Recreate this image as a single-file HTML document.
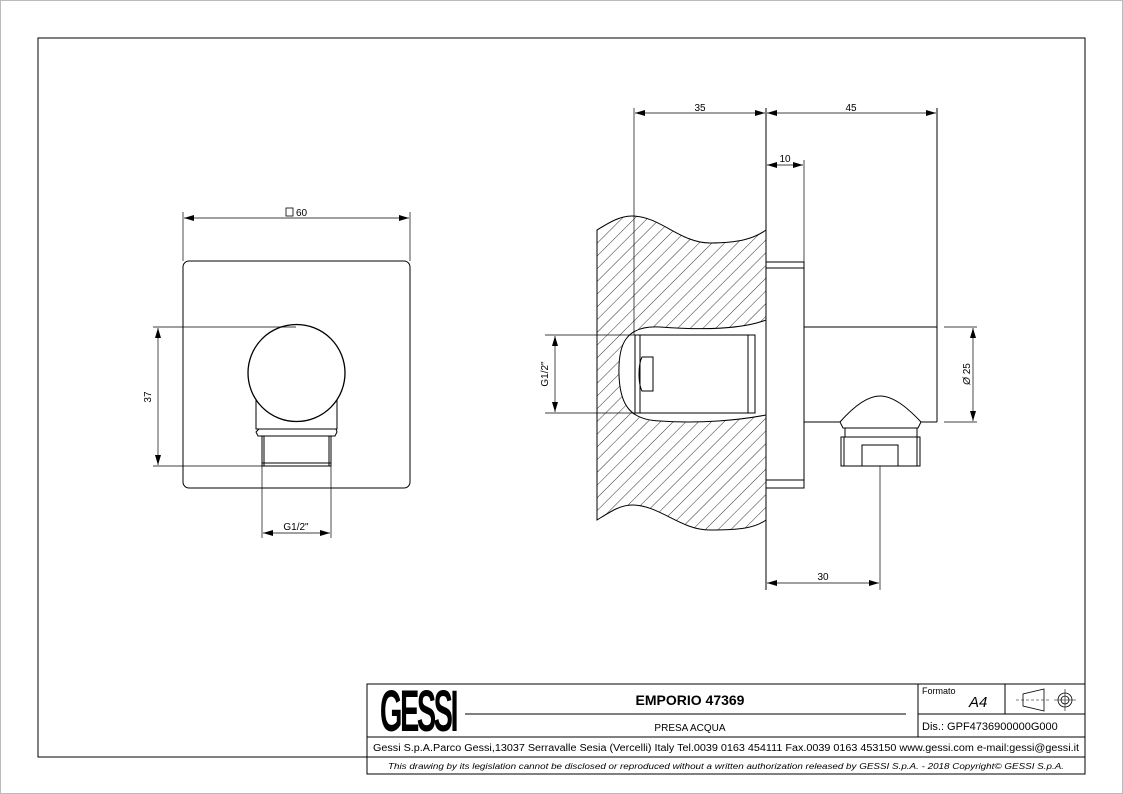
<!DOCTYPE html>
<html><head><meta charset="utf-8"><style>
html,body{margin:0;padding:0;background:#fff;}
svg{display:block;}
text{font-family:"Liberation Sans",sans-serif;fill:#000;}
</style></head><body>
<svg width="1123" height="794" viewBox="0 0 1123 794" xmlns="http://www.w3.org/2000/svg">
<defs>
<pattern id="h" patternUnits="userSpaceOnUse" width="9" height="9" patternTransform="rotate(45)">
<line x1="0" y1="0" x2="0" y2="9" stroke="#000" stroke-width="0.8"/>
</pattern>
<marker id="a" markerWidth="10" markerHeight="6" refX="10" refY="3" orient="auto-start-reverse" markerUnits="userSpaceOnUse">
<path d="M0,0 L10,3 L0,6 z" fill="#000"/>
</marker>
</defs>
<g fill="none" stroke="#000" stroke-width="1">
<rect x="0.5" y="0.5" width="1122" height="793" stroke="#bbb"/>
<polyline points="367,757 38,757 38,38 1085,38 1085,774"/>

<!-- LEFT VIEW -->
<line x1="183" y1="212" x2="183" y2="261" stroke-width="0.7"/>
<line x1="410" y1="212" x2="410" y2="261" stroke-width="0.7"/>
<line x1="184" y1="218" x2="409" y2="218" stroke-width="0.7" marker-start="url(#a)" marker-end="url(#a)"/>
<rect x="183" y="261" width="227" height="227" rx="6"/>
<path d="M256,400 L256,429 L337,429 L337,400" />
<circle cx="296.5" cy="373" r="48.5" fill="#fff" stroke-width="1.3"/>
<path d="M259,429 L336,429 L337,432 L335,436 L258,436 L256,432 Z"/>
<rect x="262" y="436" width="69" height="30"/>
<line x1="262" y1="463" x2="331" y2="463"/>
<line x1="264" y1="436" x2="264" y2="466"/>
<line x1="329" y1="436" x2="329" y2="466"/>
<line x1="153" y1="327" x2="296" y2="327" stroke-width="0.7"/>
<line x1="153" y1="466" x2="262" y2="466" stroke-width="0.7"/>
<line x1="158" y1="328" x2="158" y2="465" stroke-width="0.7" marker-start="url(#a)" marker-end="url(#a)"/>
<line x1="262" y1="466" x2="262" y2="538" stroke-width="0.7"/>
<line x1="331" y1="466" x2="331" y2="538" stroke-width="0.7"/>
<line x1="263" y1="533" x2="330" y2="533" stroke-width="0.7" marker-start="url(#a)" marker-end="url(#a)"/>
<rect x="286" y="208" width="7" height="8" stroke-width="0.8"/>

<!-- RIGHT VIEW: wall -->
<path d="M597,230 C610,222 620,216 632,216 C660,216 680,243 710,243 C740,243 755,238 766,230 L766,520 C755,528 740,530 710,530 C680,530 660,505 632,505 C620,505 610,512 597,520 Z" fill="url(#h)"/>
<path d="M766,320 C740,330 700,330 660,327 C625,325 618,345 619,375 C620,405 630,420 660,421 C700,424 740,420 766,415 Z" fill="#fff"/>
<line x1="766" y1="108" x2="766" y2="590"/>
<rect x="635" y="335" width="120" height="78" fill="#fff"/>
<line x1="640" y1="335" x2="640" y2="413"/>
<line x1="748" y1="335" x2="748" y2="413"/>
<path d="M653,357 L642,357 C638,365 638,383 642,391 L653,391 Z"/>
<path d="M766,262 L804,262 L804,488 L766,488"/>
<line x1="766" y1="268" x2="804" y2="268"/>
<line x1="766" y1="480" x2="804" y2="480"/>
<line x1="804" y1="327" x2="937" y2="327"/>
<line x1="804" y1="422" x2="840" y2="422"/>
<line x1="921" y1="422" x2="937" y2="422"/>
<line x1="937" y1="108" x2="937" y2="422"/>
<path d="M840,422 C855,405 868,396 880,396 C892,396 905,405 921,422 L918,428 L843,428 Z"/>
<rect x="845" y="428" width="72" height="9"/>
<rect x="841" y="437" width="79" height="29"/>
<line x1="844" y1="437" x2="844" y2="466"/>
<line x1="917" y1="437" x2="917" y2="466"/>
<path d="M862,466 L862,445 L898,445 L898,466"/>
<line x1="880" y1="466" x2="880" y2="590" stroke-width="0.7"/>
<line x1="634" y1="108" x2="634" y2="335" stroke-width="0.7"/>
<line x1="635" y1="113" x2="765" y2="113" stroke-width="0.7" marker-start="url(#a)" marker-end="url(#a)"/>
<line x1="767" y1="113" x2="936" y2="113" stroke-width="0.7" marker-start="url(#a)" marker-end="url(#a)"/>
<line x1="804" y1="160" x2="804" y2="262" stroke-width="0.7"/>
<line x1="767" y1="165" x2="803" y2="165" stroke-width="0.7" marker-start="url(#a)" marker-end="url(#a)"/>
<line x1="545" y1="335" x2="635" y2="335" stroke-width="0.7"/>
<line x1="545" y1="413" x2="635" y2="413" stroke-width="0.7"/>
<line x1="555" y1="336" x2="555" y2="412" stroke-width="0.7" marker-start="url(#a)" marker-end="url(#a)"/>
<line x1="944" y1="327" x2="977" y2="327" stroke-width="0.7"/>
<line x1="944" y1="422" x2="977" y2="422" stroke-width="0.7"/>
<line x1="973" y1="328" x2="973" y2="421" stroke-width="0.7" marker-start="url(#a)" marker-end="url(#a)"/>
<line x1="767" y1="583" x2="879" y2="583" stroke-width="0.7" marker-start="url(#a)" marker-end="url(#a)"/>

<!-- title block -->
<rect x="367" y="684" width="718" height="90"/>
<line x1="367" y1="737" x2="1085" y2="737"/>
<line x1="367" y1="757" x2="1085" y2="757"/>
<line x1="918" y1="684" x2="918" y2="737"/>
<line x1="1005" y1="684" x2="1005" y2="714"/>
<line x1="918" y1="714" x2="1085" y2="714"/>
<line x1="465" y1="714" x2="906" y2="714"/>
<path d="M1023,694 L1023,706 L1044,711 L1044,689 Z" stroke-width="0.8"/>
<line x1="1016" y1="700" x2="1050" y2="700" stroke-width="0.6" stroke-dasharray="3,2"/>
<circle cx="1065" cy="700" r="7" stroke-width="0.8"/>
<circle cx="1065" cy="700" r="4" stroke-width="0.8"/>
<line x1="1054" y1="700" x2="1076" y2="700" stroke-width="0.6"/>
<line x1="1065" y1="689" x2="1065" y2="711" stroke-width="0.6"/>
</g>
<g font-size="10">
<text x="296" y="216" text-anchor="start">60</text>
<text x="151" y="397" transform="rotate(-90 151 397)" text-anchor="middle">37</text>
<text x="296" y="530" text-anchor="middle">G1/2"</text>
<text x="700" y="111" text-anchor="middle">35</text>
<text x="851" y="111" text-anchor="middle">45</text>
<text x="785" y="162" text-anchor="middle">10</text>
<text x="548" y="374" transform="rotate(-90 548 374)" text-anchor="middle">G1/2"</text>
<text x="970" y="374" transform="rotate(-90 970 374)" text-anchor="middle"><tspan font-style="italic">Ø</tspan> 25</text>
<text x="823" y="580" text-anchor="middle">30</text>
</g>
<text x="418" y="731" text-anchor="middle" font-size="58" font-weight="bold" transform="translate(418 0) scale(0.5 1) translate(-418 0)" letter-spacing="-5">GESSI</text>
<text x="690" y="705" text-anchor="middle" font-size="14" font-weight="bold">EMPORIO 47369</text>
<text x="690" y="731" text-anchor="middle" font-size="10">PRESA ACQUA</text>
<text x="922" y="694" font-size="9">Formato</text>
<text x="969" y="707" font-size="15" font-style="italic">A4</text>
<text x="922" y="730" font-size="11">Dis.: GPF4736900000G000</text>
<text x="726" y="751" text-anchor="middle" font-size="10" textLength="706" lengthAdjust="spacingAndGlyphs">Gessi S.p.A.Parco Gessi,13037 Serravalle Sesia (Vercelli) Italy Tel.0039 0163 454111 Fax.0039 0163 453150 www.gessi.com e-mail:gessi@gessi.it</text>
<text x="726" y="769" text-anchor="middle" font-size="8" font-style="italic" textLength="676" lengthAdjust="spacingAndGlyphs">This drawing by its legislation cannot be disclosed or reproduced without a written authorization released by GESSI S.p.A. - 2018 Copyright© GESSI S.p.A.</text>
</svg>
</body></html>
